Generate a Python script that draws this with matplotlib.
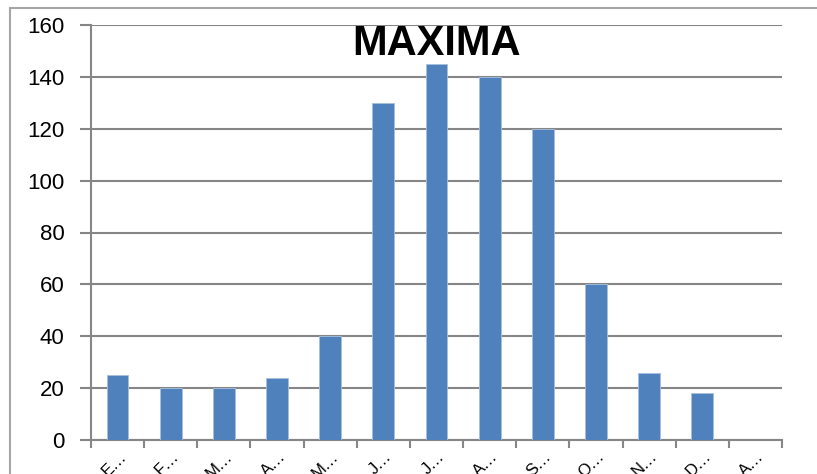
import numpy as np
import matplotlib
matplotlib.use("Agg")
import matplotlib.pyplot as plt
import matplotlib.transforms as mtransforms
from matplotlib.patches import Rectangle

# data
months = ["E…", "F…", "M…", "A…", "M…", "J…", "J…", "A…", "S…", "O…", "N…", "D…", "A…"]
maxima = [25, 20, 20, 24, 40, 130, 145, 140, 120, 60, 26, 18, 0]
y_ticks = [0, 20, 40, 60, 80, 100, 120, 140, 160]

bar_color = "#4F81BD"
axis_color = "#868686"

plt.rcParams["font.family"] = ["Liberation Sans", "DejaVu Sans"]

fig = plt.figure(figsize=(8.17, 4.74), dpi=100)
# outer chart frame (cropped off on the right and bottom)
fig.patches.append(Rectangle((10 / 817, -0.1), 1.2, (474 - 8) / 474 + 0.1,
                             transform=fig.transFigure, fill=False,
                             edgecolor="#A6A6A6", linewidth=1.5))

ax = fig.add_axes([91 / 817, 34 / 474, (782 - 91) / 817, (440 - 25) / 474])
x = np.arange(len(months))
ax.bar(x, maxima, width=0.41, color=bar_color, edgecolor="#A7C0DE", linewidth=0.6, zorder=3)

ax.set_xlim(-0.5, len(months) - 0.5)
ax.set_ylim(0, 160)
ax.set_yticks(y_ticks)
ax.set_yticklabels([str(v) for v in y_ticks], fontsize=16)
ax.yaxis.grid(True, color=axis_color, linewidth=1.5, zorder=0)
ax.tick_params(axis="y", length=8, width=1.5, color=axis_color, pad=11)

ax.set_xticks(x)
ax.set_xticklabels(months, rotation=45, ha="right", va="center", rotation_mode="anchor", fontsize=12)
ax.tick_params(axis="x", which="major", length=0, pad=10)
ax.set_xticks(np.arange(-0.5, len(months)), minor=True)
ax.tick_params(axis="x", which="minor", length=6, width=1.5, color=axis_color)
shift = mtransforms.ScaledTranslation(6 / 100, 0, fig.dpi_scale_trans)
for lbl in ax.get_xticklabels():
    lbl.set_transform(lbl.get_transform() + shift)

for side in ["top", "right"]:
    ax.spines[side].set_visible(False)
for side in ["left", "bottom"]:
    ax.spines[side].set_color(axis_color)
    ax.spines[side].set_linewidth(1.5)

ax.text(0.5, 0.955, "MAXIMA", transform=ax.transAxes, ha="center", va="center",
        fontsize=30, fontweight="bold", color="black", zorder=5)

fig.savefig("out.png", dpi=100)
